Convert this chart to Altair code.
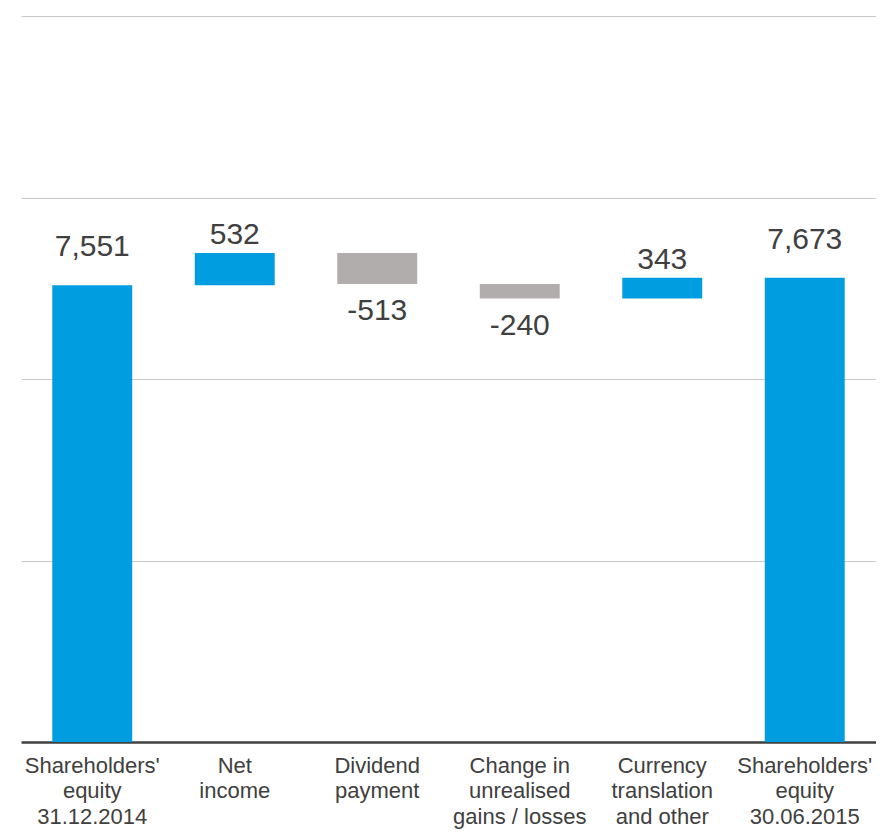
import altair as alt
import pandas as pd

categories = [
    "Shareholders'|equity|31.12.2014",
    "Net|income",
    "Dividend|payment",
    "Change in|unrealised|gains / losses",
    "Currency|translation|and other",
    "Shareholders'|equity|30.06.2015",
]
values = [7551, 532, -513, -240, 343, 7673]
kinds = ["total", "up", "down", "down", "up", "total"]
y_ticks = [3000, 6000, 9000, 12000]

rows = []
running = 0
for i, (c, v, k) in enumerate(zip(categories, values, kinds)):
    if k == "total":
        start, end = 0, v
        running = v
    else:
        start, end = running, running + v
        running = end
    rows.append({"cat": c, "order": i, "start": start, "end": end,
                 "kind": k, "color": "neg" if v < 0 else "pos",
                 "label": f"{v:,}"})
df = pd.DataFrame(rows)

BLUE = "#009EE0"
GRAY = "#B2ADAD"
TXT = "#404040"
FONT = "Liberation Sans"

x = alt.X("cat:N", sort=categories, title=None,
          scale=alt.Scale(paddingInner=0.439, paddingOuter=0.2195),
          axis=alt.Axis(labelAngle=0, labelExpr="split(datum.label, '|')",
                        labelFontSize=22, labelLineHeight=25.5, labelColor=TXT,
                        labelFont=FONT, labelPadding=13, ticks=False,
                        domainColor=TXT, domainWidth=2.5, labelBaseline="top"))
y_scale = alt.Scale(domain=[0, 12000], nice=False, zero=True)

base = alt.Chart(df)

bars = base.mark_bar().encode(
    x=x,
    y=alt.Y("start:Q", scale=y_scale, title=None,
            axis=alt.Axis(values=y_ticks, labels=False, ticks=False, domain=False,
                          grid=True, gridColor="#C8C8C8", gridWidth=1)),
    y2="end:Q",
    color=alt.Color("color:N", scale=alt.Scale(domain=["pos", "neg"], range=[BLUE, GRAY]),
                    legend=None),
)

def txt(kind, dy, baseline):
    return base.transform_filter(alt.datum.kind == kind).mark_text(
        fontSize=30, font=FONT, color=TXT, dy=dy, baseline=baseline
    ).encode(x=alt.X("cat:N", sort=categories), y=alt.Y("end:Q", scale=y_scale), text="label:N")

chart = alt.layer(
    bars,
    txt("total", -29, "alphabetic"),
    txt("up", -9, "alphabetic"),
    txt("down", 12, "top"),
).properties(
    width=855, height=726,
    padding={"left": 13, "top": 8, "right": 0, "bottom": 89},
    autosize=alt.AutoSizeParams(type="none"),
).configure_view(stroke=None).configure_axis(labelFont=FONT)

chart.save("out.html", embed_options={"renderer": "svg", "actions": False})
